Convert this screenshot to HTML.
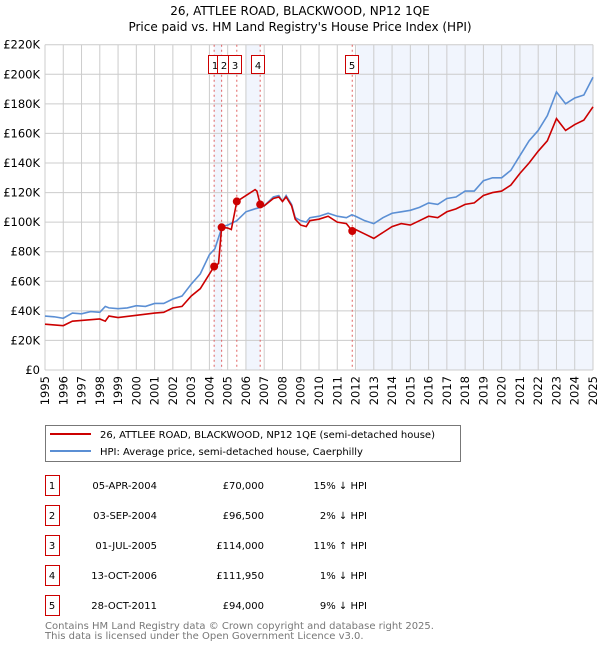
<!DOCTYPE html>
<html><head><meta charset="utf-8"><style>
body{margin:0;background:#fff;}
svg text{font-family:"DejaVu Sans","Liberation Sans",sans-serif;}
</style></head><body>
<svg id="chart" width="600" height="650" xmlns="http://www.w3.org/2000/svg">
<text x="300" y="15" text-anchor="middle" font-size="12">26, ATTLEE ROAD, BLACKWOOD, NP12 1QE</text>
<text x="300" y="31" text-anchor="middle" font-size="12">Price paid vs. HM Land Registry's House Price Index (HPI)</text>
<g id="bands"></g><g id="grid"></g><g id="axes"></g><g id="series"></g><g id="markers"></g>
<g>
<rect x="45.5" y="425.5" width="415" height="36" fill="#fff" stroke="#777"/>
<line x1="50" y1="434" x2="91" y2="434" stroke="#cc0000" stroke-width="2"/>
<text x="100" y="438" font-size="10">26, ATTLEE ROAD, BLACKWOOD, NP12 1QE (semi-detached house)</text>
<line x1="50" y1="451" x2="91" y2="451" stroke="#5b8fd4" stroke-width="2"/>
<text x="100" y="455" font-size="10">HPI: Average price, semi-detached house, Caerphilly</text>
</g>
<g id="table" font-size="10"></g>
<text x="45" y="629" font-size="10" fill="#777">Contains HM Land Registry data © Crown copyright and database right 2025.</text>
<text x="45" y="639" font-size="10" fill="#777">This data is licensed under the Open Government Licence v3.0.</text>
</svg>
<script>
const hpiYears=[1995,1995.5,1996,1996.5,1997,1997.5,1998,1998.3,1998.5,1999,1999.5,2000,2000.5,2001,2001.5,2002,2002.5,2003,2003.5,2004,2004.3,2004.7,2005,2005.5,2006,2006.5,2006.8,2007,2007.5,2007.8,2008,2008.2,2008.5,2008.7,2009,2009.3,2009.5,2010,2010.5,2011,2011.5,2011.8,2012,2012.5,2013,2013.5,2014,2014.5,2015,2015.5,2016,2016.5,2017,2017.5,2018,2018.5,2019,2019.5,2020,2020.5,2021,2021.5,2022,2022.5,2023,2023.5,2024,2024.5,2025];
const hpiValues=[36.5,36,35,38.5,38,39.5,39,43,42,41.5,42,43.5,43,45,45,48,50,58,65,78,82,97,98,101,107,109,110,111,117,118,114,118,112,103,101,100,103,104,106,104,103,105,104,101,99,103,106,107,108,110,113,112,116,117,121,121,128,130,130,135,145,155,162,172,188,180,184,186,198];
const ppYears=[1995,1996,1996.5,1997,1998,1998.3,1998.5,1999,2000,2001,2001.5,2002,2002.5,2003,2003.5,2004.26,2004.5,2004.67,2005,2005.2,2005.5,2006,2006.5,2006.6,2006.78,2007,2007.5,2007.8,2008,2008.2,2008.5,2008.7,2009,2009.3,2009.5,2010,2010.5,2011,2011.5,2011.82,2012,2012.5,2013,2013.5,2014,2014.5,2015,2015.5,2016,2016.5,2017,2017.5,2018,2018.5,2019,2019.5,2020,2020.5,2021,2021.5,2022,2022.5,2023,2023.5,2024,2024.5,2025];
const ppValues=[31,30,33,33.5,34.5,33,36.5,35.5,37,38.5,39,42,43,50,55,70,72,96.5,96,95,114,118,122,121,112,111,116,117,114,117,111,102,98,97,101,102,104,100,99,94,95,92,89,93,97,99,98,101,104,103,107,109,112,113,118,120,121,125,133,140,148,155,170,162,166,169,178];
const saleLabels=["1","2","3","4","5"];
const saleYears=[2004.26,2004.67,2005.5,2006.78,2011.82];
const salePrices=[70,96.5,114,111.95,94];
const saleDates=["05-APR-2004","03-SEP-2004","01-JUL-2005","13-OCT-2006","28-OCT-2011"];
const salePriceText=["£70,000","£96,500","£114,000","£111,950","£94,000"];
const saleHpiText=["15% ↓ HPI","2% ↓ HPI","11% ↑ HPI","1% ↓ HPI","9% ↓ HPI"];
const yTicks=[0,20,40,60,80,100,120,140,160,180,200,220];
const xTicks=[1995,1996,1997,1998,1999,2000,2001,2002,2003,2004,2005,2006,2007,2008,2009,2010,2011,2012,2013,2014,2015,2016,2017,2018,2019,2020,2021,2022,2023,2024,2025];
const bandStarts=[2004.26,2006.0,2012.06];
const bandEnds=[2004.67,2006.78,2025];

const X0=45,X1=593,Y0=370,Y1=44.7;
const x=v=>X0+(v-1995)/30*(X1-X0);
const y=v=>Y0-v/220*(Y0-Y1);
const NS="http://www.w3.org/2000/svg";
function mk(tag,parent,attrs){const e=document.createElementNS(NS,tag);for(const k in attrs)e.setAttribute(k,attrs[k]);document.getElementById(parent).appendChild(e);return e;}

bandStarts.forEach((s,i)=>{
  const r=mk('rect','bands',{x:x(s),y:Y1,width:x(bandEnds[i])-x(s),height:Y0-Y1,fill:'#eef3fd',opacity:0.8});
  
  
});
yTicks.forEach(t=>{
  const l=mk('line','grid',{x1:X0,x2:X1,y1:y(t),y2:y(t),stroke:'#cccccc'});
  
  
  const tx=mk('text','axes',{x:40,y:y(t)+4,'text-anchor':'end','font-size':'11.5'});
  
  
  tx.textContent=t===0?'£0':'£'+t+'K';
});
xTicks.forEach(t=>{
  const l=mk('line','grid',{x1:x(t),x2:x(t),y1:Y1,y2:Y0,stroke:'#cccccc'});
  
  
  const tx=mk('text','axes',{x:0,y:0,'text-anchor':'end','font-size':'11.5',transform:`translate(${x(t)+4},${Y0+6}) rotate(-90)`});
  
  
  tx.textContent=t;
});
saleYears.forEach((s,i)=>{
  const l=mk('line','grid',{x1:x(s),x2:x(s),y1:Y1,y2:Y0,stroke:'#e06060','stroke-dasharray':'2,3'});
  
  
});
const hp=mk('polyline','series',{points:hpiYears.map((v,i)=>x(v)+','+y(hpiValues[i])).join(' '),fill:'none',stroke:'#5b8fd4','stroke-width':1.6});


const pp=mk('polyline','series',{points:ppYears.map((v,i)=>x(v)+','+y(ppValues[i])).join(' '),fill:'none',stroke:'#cc0000','stroke-width':1.6});


const boxX=[208,217,228,251,345];
saleYears.forEach((s,i)=>{
  const c=mk('circle','markers',{cx:x(s),cy:y(salePrices[i]),r:4,fill:'#cc0000'});
  
  
  const b=mk('rect','markers',{x:boxX[i]+0.5,y:55.5,width:13,height:18,fill:'#fff',stroke:'#cc0000'});
  
  
  const t=mk('text','markers',{x:boxX[i]+7,y:69,'text-anchor':'middle','font-size':'10'});
  
  
  t.textContent=saleLabels[i];
  const ry=475+i*30;
  const tb=mk('rect','table',{x:45.5,y:ry+0.5,width:14,height:20,fill:'#fff',stroke:'#cc0000'});
  
  
  const cells=[[52,'middle',saleLabels[i]],[157,'end',saleDates[i]],[264,'end',salePriceText[i]],[367,'end',saleHpiText[i]]];
  cells.forEach(cv=>{
    const tt=mk('text','table',{x:cv[0],y:ry+14,'text-anchor':cv[1]});
    
    
    tt.textContent=cv[2];
  });
});
</script>
</body></html>
